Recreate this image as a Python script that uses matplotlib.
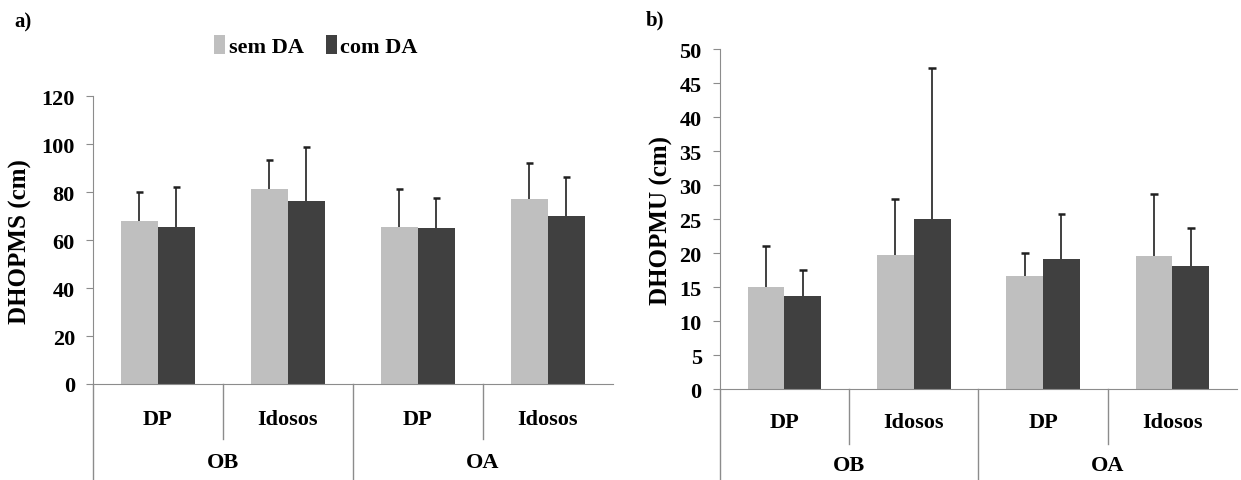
import numpy as np
import matplotlib
matplotlib.use("Agg")
import matplotlib.pyplot as plt

plt.rcParams['font.family'] = ['Liberation Serif', 'DejaVu Serif']
plt.rcParams['font.weight'] = 'bold'

# dados
grupos = ['OB', 'OA']
sub = ['DP', 'Idosos', 'DP', 'Idosos']
series = ['sem DA', 'com DA']

ms_sem = [68, 81.5, 65.5, 77]
ms_sem_top = [80, 93.5, 81.5, 92]
ms_com = [65.5, 76.5, 65, 70]
ms_com_top = [82, 99, 77.5, 86.5]

mu_sem = [15, 19.7, 16.6, 19.5]
mu_sem_top = [21, 28, 20, 28.7]
mu_com = [13.7, 25, 19.1, 18.1]
mu_com_top = [17.5, 47.2, 25.8, 23.7]

cor_sem = '#bfbfbf'
cor_com = '#404040'
cinza = '#8c8c8c'

fig = plt.figure(figsize=(12.41, 4.81), dpi=100)
ax1 = fig.add_axes([0.0749, 0.1996, 0.419, 0.598])
ax2 = fig.add_axes([0.580, 0.189, 0.4168, 0.707])


def erro(ax, x, base, top):
    # so a parte de cima do desvio, com um traco no topo
    ax.vlines(x, base, top, color='#202020', lw=1.2, zorder=3)
    ax.hlines(top, x - 0.03, x + 0.03, color='#202020', lw=1.8, zorder=3)


def painel(ax, sem, sem_top, com, com_top, ymax, passo, ylabel, y_sub, y_grp, y_sep, y_bot):
    x = np.arange(4)
    w = 0.285
    ax.bar(x - w / 2, sem, w, color=cor_sem, label=series[0])
    ax.bar(x + w / 2, com, w, color=cor_com, label=series[1])
    erro(ax, x - w / 2, sem, sem_top)
    erro(ax, x + w / 2, com, com_top)
    ax.set_xlim(-0.5, 3.5)
    ax.set_ylim(0, ymax)
    ax.set_yticks(np.arange(0, ymax + 0.1, passo))
    ax.tick_params(axis='y', labelsize=16, length=5, color=cinza, pad=8)
    ax.set_xticks([])
    for s in ['top', 'right']:
        ax.spines[s].set_visible(False)
    for s in ['left', 'bottom']:
        ax.spines[s].set_color(cinza)
    ax.set_ylabel(ylabel, fontsize=18, fontweight='bold')
    tr = ax.get_xaxis_transform()
    # eixo de categorias em dois niveis
    for xs in [0.5, 2.5]:
        ax.plot([xs, xs], [0, y_sep], transform=tr, color=cinza, lw=1, clip_on=False)
    for xs in [-0.5, 1.5]:
        ax.plot([xs, xs], [0, y_bot], transform=tr, color=cinza, lw=1, clip_on=False)
    for i, s in enumerate(sub):
        ax.text(i, y_sub, s, transform=tr, ha='center', va='center', fontsize=16, fontweight='bold')
    for i, g in enumerate(grupos):
        ax.text(0.5 + 2 * i, y_grp, g, transform=tr, ha='center', va='center', fontsize=16, fontweight='bold')


painel(ax1, ms_sem, ms_sem_top, ms_com, ms_com_top, 120, 20, 'DHOPMS (cm)',
       -0.12, -0.27, -0.19, -0.34)
painel(ax2, mu_sem, mu_sem_top, mu_com, mu_com_top, 50, 5, 'DHOPMU (cm)',
       -0.097, -0.224, -0.162, -0.27)
ax1.yaxis.set_label_coords(-0.118, 0.5)
ax2.yaxis.set_label_coords(-0.09, 0.5)

h, l = ax1.get_legend_handles_labels()
fig.legend(h, l, loc='center', bbox_to_anchor=(316 / 1241, 1 - 47 / 481), ncol=2, frameon=False,
           fontsize=16, handlelength=0.5, handleheight=0.9, handletextpad=0.15, columnspacing=1.0)

fig.text(14 / 1241, 1 - 22 / 481, 'a)', fontsize=15, fontweight='bold', va='center')
fig.text(646 / 1241, 1 - 20 / 481, 'b)', fontsize=15, fontweight='bold', va='center')

fig.savefig('out.png', dpi=100)
